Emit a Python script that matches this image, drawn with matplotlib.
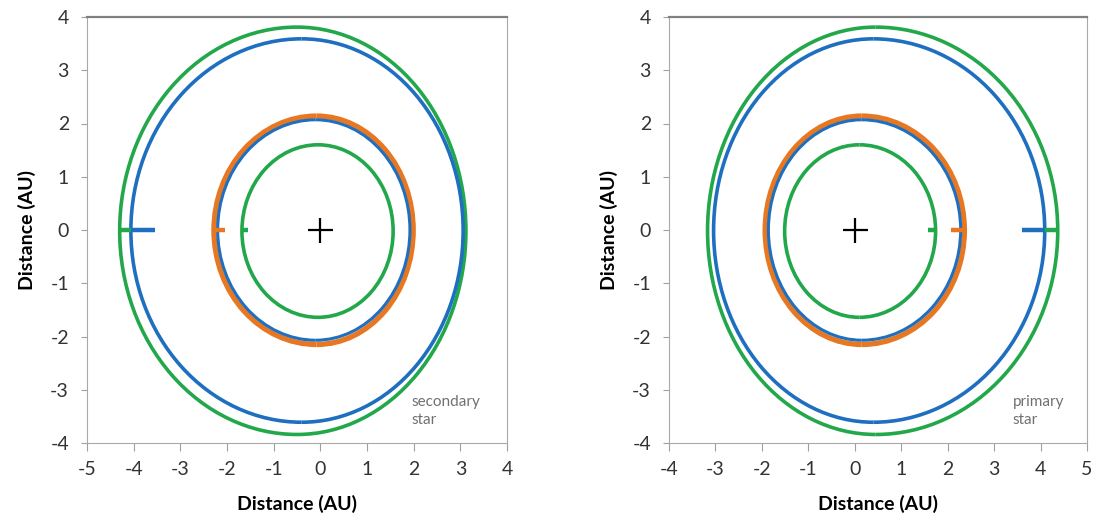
import numpy as np
import matplotlib
matplotlib.use("Agg")
import matplotlib.pyplot as plt
from matplotlib.patches import Arc

plt.rcParams['font.family'] = ['Lato', 'DejaVu Sans']
plt.rcParams['axes.unicode_minus'] = False

green = "#22a84a"
blue = "#1e6fc0"
orange = "#e87722"

# orbites : (couleur, x gauche, x droite, x du sommet, y haut, y bas, epaisseur)
orbits_sec = [
    (green, -4.30, 3.12, -0.50, 3.81, -3.84, 2.6),
    (blue, -4.06, 3.06, -0.40, 3.59, -3.61, 2.6),
    (orange, -2.28, 1.99, -0.08, 2.14, -2.15, 3.8),
    (blue, -2.20, 1.92, -0.10, 2.07, -2.07, 2.2),
    (green, -1.68, 1.56, -0.05, 1.60, -1.64, 2.6),
]
orbits_prim = [
    (green, -3.17, 4.37, 0.45, 3.81, -3.84, 2.6),
    (blue, -3.04, 4.09, 0.40, 3.59, -3.61, 2.6),
    (orange, -1.93, 2.36, 0.15, 2.14, -2.15, 3.8),
    (blue, -1.86, 2.28, 0.15, 2.07, -2.07, 2.2),
    (green, -1.51, 1.74, 0.10, 1.60, -1.64, 2.6),
]

# petits segments de depart sur y = 0
stubs_sec = [(green, -4.30, -4.05), (blue, -4.06, -3.55), (orange, -2.28, -2.05), (green, -1.68, -1.55)]
stubs_prim = [(green, 1.58, 1.74), (orange, 2.08, 2.36), (blue, 3.59, 4.09), (green, 4.09, 4.37)]

xticks_sec = [-5, -4, -3, -2, -1, 0, 1, 2, 3, 4]
xticks_prim = [-4, -3, -2, -1, 0, 1, 2, 3, 4, 5]
yticks = [-4, -3, -2, -1, 0, 1, 2, 3, 4]

fig = plt.figure(figsize=(10.99, 5.31), dpi=100)
ax1 = fig.add_axes([87/1099, 1-443/531, 420/1099, 426/531])
ax2 = fig.add_axes([669/1099, 1-443/531, 418/1099, 426/531])


def draw(ax, orbits, stubs, xticks, label, tx):
    for c, xl, xr, xm, yt, yb, lw in orbits:
        yc = (yt + yb) / 2
        h = yt - yb
        ax.add_patch(Arc((xm, yc), 2*(xm - xl), h, theta1=90, theta2=270, color=c, lw=lw))
        ax.add_patch(Arc((xm, yc), 2*(xr - xm), h, theta1=-90, theta2=90, color=c, lw=lw))
    for c, x0, x1 in stubs:
        ax.plot([x0, x1], [0, 0], color=c, lw=3.2, solid_capstyle='butt')
    ax.plot([0], [0], marker='+', color='black', ms=18, mew=1.6)
    ax.set_xlim(xticks[0], xticks[-1])
    ax.set_ylim(-4, 4)
    ax.set_xticks(xticks)
    ax.set_yticks(yticks)
    ax.tick_params(axis='both', colors='#a0a0a0', labelcolor='#333333', labelsize=14)
    ax.tick_params(axis='x', length=6, pad=7)
    ax.tick_params(axis='y', length=4, pad=9)
    for s in ['left', 'bottom', 'right']:
        ax.spines[s].set_color('#a8a8a8')
    ax.spines['top'].set_color('#808080')
    ax.spines['top'].set_linewidth(1.6)
    ax.set_xlabel("Distance (AU)", fontsize=14, fontweight='bold', labelpad=12)
    ax.set_ylabel("Distance (AU)", fontsize=14, fontweight='bold', labelpad=10)
    ax.text(tx, -3.1, label, fontsize=11, color='#707070', va='top', ha='left', linespacing=1.35)


draw(ax1, orbits_sec, stubs_sec, xticks_sec, "secondary\nstar", 1.96)
draw(ax2, orbits_prim, stubs_prim, xticks_prim, "primary\nstar", 3.40)

fig.savefig("out.png", dpi=100)
